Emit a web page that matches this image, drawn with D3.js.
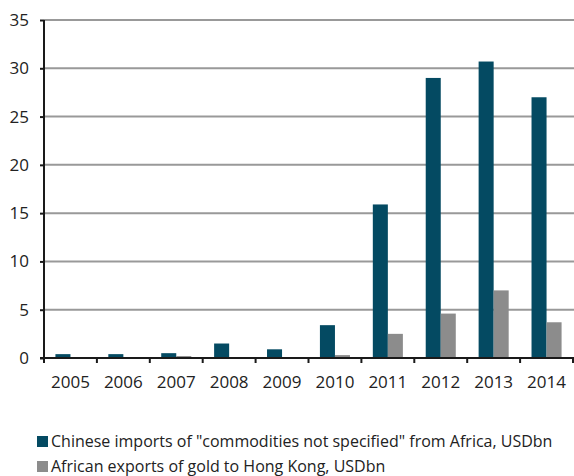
<!DOCTYPE html>
<html>
<head>
<meta charset="utf-8">
<script src="https://cdn.jsdelivr.net/npm/d3@7"></script>
<style>
  html, body { margin: 0; padding: 0; background: #fff; }
  svg { display: block; font-family: "Open Sans", sans-serif; }
</style>
</head>
<body>
<svg id="chart" width="574" height="476"></svg>
<script>
// Years on the category axis
const years = ["2005", "2006", "2007", "2008", "2009", "2010", "2011", "2012", "2013", "2014"];
// Chinese imports of "commodities not specified" from Africa, USDbn
const chinaImports = [0.4, 0.4, 0.5, 1.5, 0.9, 3.4, 15.9, 29.0, 30.7, 27.0];
// African exports of gold to Hong Kong, USDbn
const goldToHK = [0.0, 0.0, 0.2, 0.05, 0.05, 0.3, 2.5, 4.6, 7.0, 3.7];
const seriesNames = [
  "Chinese imports of \"commodities not specified\" from Africa, USDbn",
  "African exports of gold to Hong Kong, USDbn"
];
const seriesColors = ["#044a62", "#8c8c8c"];
const yTicks = [0, 5, 10, 15, 20, 25, 30, 35];

const svg = d3.select("#chart");
const plotL = 44, plotR = 573, plotT = 20, plotB = 358;

const x = d3.scaleBand().domain(years).range([plotL, plotR]).padding(0);
const x1 = d3.scaleBand().domain([0, 1]).range([0, x.bandwidth()])
  .paddingInner(0).paddingOuter(0.76);
const y = d3.scaleLinear().domain([0, 35]).range([plotB, plotT]);

// Horizontal gridlines
svg.append("g")
  .selectAll("line")
  .data(yTicks.filter(d => d > 0))
  .join("line")
  .attr("x1", plotL).attr("x2", plotR + 1)
  .attr("y1", d => y(d)).attr("y2", d => y(d))
  .attr("stroke", "#999").attr("stroke-width", 2);

// Bars
const series = [chinaImports, goldToHK];
series.forEach((vals, si) => {
  svg.append("g")
    .selectAll("rect")
    .data(years.map((yr, i) => ({ yr, v: vals[i] })))
    .join("rect")
    .attr("x", d => x(d.yr) + x1(si))
    .attr("width", x1.bandwidth())
    .attr("y", d => y(d.v))
    .attr("height", d => y(0) - y(d.v))
    .attr("fill", seriesColors[si]);
});

// Y axis
const yAxis = d3.axisLeft(y).tickValues(yTicks).tickSize(4).tickPadding(11);
const gy = svg.append("g").attr("transform", `translate(${plotL},0)`).call(yAxis);
gy.select(".domain").attr("stroke", "#1a1a1a").attr("stroke-width", 2)
  .attr("d", `M0,${plotT}V${plotB + 4}`);
gy.selectAll(".tick line").attr("stroke", "#1a1a1a").attr("stroke-width", 2);
gy.selectAll(".tick text").attr("fill", "#222").style("font-size", "17px")
  .style("font-family", "'Open Sans', sans-serif");

// X axis: baseline, boundary ticks, centred year labels
const gx = svg.append("g");
gx.append("line")
  .attr("x1", plotL - 4).attr("x2", plotR + 1)
  .attr("y1", plotB).attr("y2", plotB)
  .attr("stroke", "#1a1a1a").attr("stroke-width", 2);
gx.selectAll("line.bound")
  .data(years.map(d => x(d)).concat([plotR]))
  .join("line").attr("class", "bound")
  .attr("x1", d => d).attr("x2", d => d)
  .attr("y1", plotB).attr("y2", plotB + 5)
  .attr("stroke", "#1a1a1a").attr("stroke-width", 2);
gx.selectAll("text")
  .data(years)
  .join("text")
  .attr("x", d => x(d) + x.bandwidth() / 2)
  .attr("y", plotB + 30)
  .attr("text-anchor", "middle")
  .attr("fill", "#222")
  .style("font-size", "17px")
  .text(d => d);

// Legend
const lg = svg.append("g");
seriesNames.forEach((name, i) => {
  const yy = 447 + i * 25;
  lg.append("rect")
    .attr("x", 37).attr("y", yy - 11)
    .attr("width", 11).attr("height", 11)
    .attr("fill", seriesColors[i]);
  lg.append("text")
    .attr("x", 51).attr("y", yy)
    .attr("fill", "#222")
    .style("font-size", "16px")
    .text(name);
});
</script>
</body>
</html>
